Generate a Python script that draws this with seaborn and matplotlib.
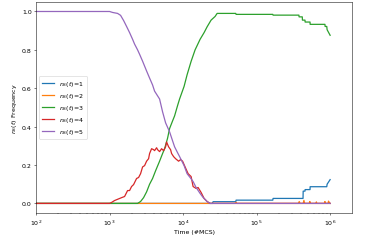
import numpy as np
import pandas as pd
import seaborn as sns
import matplotlib
matplotlib.use('Agg')
import matplotlib.pyplot as plt

# time points (#MCS) and frequencies
t1 = [1, 25000, 25590, 52000, 52600, 166000, 167500, 428000, 430000, 455000,
      457000, 533000, 534600, 900000, 910000, 1000000]
f1 = [0.0, 0.0, 0.009, 0.009, 0.017, 0.017, 0.026, 0.026, 0.064, 0.064,
      0.072, 0.072, 0.087, 0.087, 0.10, 0.124]

t2 = [1, 51000, 52600, 54000, 370000, 380000, 390000, 430000, 440000, 450000,
      520000, 530000, 540000, 640000, 650000, 660000, 840000, 850000, 860000,
      940000, 950000, 970000, 1000000]
f2 = [0.0, 0.0, 0.006, 0.0, 0.0, 0.01, 0.0, 0.0, 0.016, 0.0,
      0.0, 0.01, 0.0, 0.0, 0.008, 0.0, 0.0, 0.01, 0.0,
      0.0, 0.012, 0.006, 0.0]

t3 = [1, 2404, 2641, 2901, 3187, 3501, 3846, 4225, 4789, 5261, 5601, 6153,
      6550, 7196, 7661, 8415, 8959, 10320, 11330, 12850, 14560, 17030, 19310,
      21210, 24030, 27230, 29040, 52000, 52600, 166000, 167500, 376000,
      378400, 418000, 420000, 455000, 457000, 533000, 534600, 850000, 855000,
      900000, 910000, 1000000]
f3 = [0.0, 0.0, 0.01, 0.03, 0.06, 0.10, 0.13, 0.17, 0.22, 0.26, 0.285, 0.34,
      0.39, 0.43, 0.456, 0.51, 0.544, 0.61, 0.67, 0.74, 0.80, 0.855, 0.89,
      0.92, 0.955, 0.974, 0.99, 0.99, 0.985, 0.985, 0.981, 0.981,
      0.972, 0.972, 0.955, 0.955, 0.945, 0.945, 0.933, 0.933, 0.922,
      0.922, 0.905, 0.876]

t4 = [1, 1000, 1065, 1169, 1456, 1600, 1758, 1871, 1992, 2121, 2330, 2481,
      2641, 2812, 2994, 3187, 3393, 3501, 3728, 3969, 4095, 4360, 4498, 4789,
      5099, 5428, 5779, 5963, 6348, 6759, 6974, 7424, 7904, 8683, 9244, 9842,
      10650, 11700, 12850, 13680, 15030, 16000, 17580, 19310, 21210, 23300,
      1000000]
f4 = [0.0, 0.0, 0.005, 0.015, 0.03, 0.036, 0.067, 0.067, 0.088, 0.098, 0.13,
      0.135, 0.155, 0.19, 0.197, 0.22, 0.233, 0.26, 0.285, 0.28, 0.275, 0.29,
      0.28, 0.27, 0.285, 0.275, 0.295, 0.32, 0.295, 0.28, 0.26, 0.244, 0.233,
      0.22, 0.228, 0.22, 0.19, 0.155, 0.14, 0.088, 0.078, 0.083, 0.057, 0.026,
      0.01, 0.0, 0.0]

t5 = [1, 1000, 1098, 1285, 1411, 1551, 1703, 1871, 2056, 2189, 2404, 2560,
      2812, 3187, 3501, 3846, 4095, 4789, 5261, 5779, 6550, 7196, 7661, 8415,
      8959, 10320, 11330, 12450, 13680, 15030, 17030, 18710, 21210, 23300,
      1000000]
f5 = [1.0, 1.0, 0.995, 0.99, 0.98, 0.953, 0.922, 0.89, 0.855, 0.83, 0.80,
      0.777, 0.741, 0.69, 0.653, 0.617, 0.585, 0.544, 0.477, 0.42, 0.373,
      0.326, 0.295, 0.264, 0.244, 0.197, 0.155, 0.135, 0.114, 0.083, 0.052,
      0.031, 0.01, 0.0, 0.0]

labels = [r'$n_S(t)$=1', r'$n_S(t)$=2', r'$n_S(t)$=3', r'$n_S(t)$=4', r'$n_S(t)$=5']

frames = []
for lab, t, f in zip(labels, [t1, t2, t3, t4, t5], [f1, f2, f3, f4, f5]):
    frames.append(pd.DataFrame({'t': t, 'freq': f, 'series': lab}))
df = pd.concat(frames, ignore_index=True)

fig, ax = plt.subplots(figsize=(368 / 45, 241 / 45), dpi=45)
fig.subplots_adjust(left=0.098, right=0.957, bottom=0.112, top=0.988)

sns.lineplot(data=df, x='t', y='freq', hue='series', hue_order=labels,
             palette=sns.color_palette('tab10', 5), linewidth=2.0,
             estimator=None, sort=False, ax=ax)

ax.set_xscale('log')
ax.set_xlim(left=100)
ax.set_xlabel('Time (#MCS)')
ax.set_ylabel(r'$n_S(t)$ Frequency')
sns.move_legend(ax, 'center left', title=None)

fig.savefig('out.png', dpi=45)
